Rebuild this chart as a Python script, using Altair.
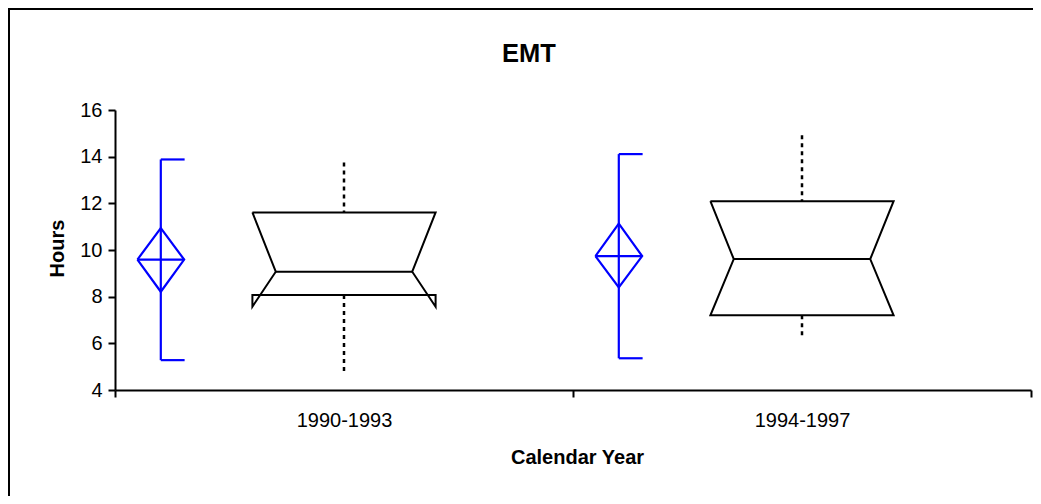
import altair as alt
import pandas as pd

# ---- data ----
chart_title = "EMT"
categories = ["1990-1993", "1994-1997"]

# blue: mean with confidence diamond and min/max range bars
mean_vals = [9.59, 9.74]
mean_ci_low = [8.21, 8.40]
mean_ci_high = [10.94, 11.13]
range_low = [5.28, 5.36]
range_high = [13.88, 14.11]

# black: notched box plot with dotted whiskers
box_min = [4.81, 6.35]
box_q1 = [8.07, 7.20]
box_median = [9.07, 9.61]
box_q3 = [11.61, 12.09]
box_max = [13.75, 14.92]
notch_low = [7.57, 7.20]
notch_high = [11.61, 12.09]

y_ticks = [4, 6, 8, 10, 12, 14, 16]

# ---- layout constants (in category-band units) ----
BOX_CENTER = 0.5
BLUE_CENTER = 0.1
BOX_HALF = 0.2
NOTCH = 0.051
DIAMOND = 0.051
CAP = 0.052

W, H = 916, 280
PAD = {"left": 107, "top": 102, "right": 2, "bottom": 106}
FONT = "Liberation Sans"
BLUE = "#0000FF"

box_path, box_rows, blue_path, blue_rows = [], [], [], []
for i, cat in enumerate(categories):
    c = i + BOX_CENTER
    L, R = c - BOX_HALF, c + BOX_HALF
    pts = [(L, box_q3[i]), (L, notch_high[i]), (L + NOTCH, box_median[i]),
           (L, notch_low[i]), (L, box_q1[i]), (R, box_q1[i]), (R, notch_low[i]),
           (R - NOTCH, box_median[i]), (R, notch_high[i]), (R, box_q3[i]),
           (L, box_q3[i])]
    for k, (px, py) in enumerate(pts):
        box_path.append({"cat": cat, "order": k, "x": px, "y": py})
    box_rows.append({"cat": cat, "c": c, "ml": L + NOTCH, "mr": R - NOTCH,
                     "min": box_min[i], "q1": box_q1[i], "med": box_median[i],
                     "q3": box_q3[i], "max": box_max[i]})

    b = i + BLUE_CENTER
    dpts = [(b - DIAMOND, mean_vals[i]), (b, mean_ci_high[i]),
            (b + DIAMOND, mean_vals[i]), (b, mean_ci_low[i]),
            (b - DIAMOND, mean_vals[i])]
    for k, (px, py) in enumerate(dpts):
        blue_path.append({"cat": cat, "order": k, "x": px, "y": py})
    blue_rows.append({"cat": cat, "b": b, "bl": b - DIAMOND, "br": b + DIAMOND,
                      "cap": b + CAP, "lo": range_low[i], "hi": range_high[i],
                      "mean": mean_vals[i]})

box_path = pd.DataFrame(box_path)
box_df = pd.DataFrame(box_rows)
blue_path = pd.DataFrame(blue_path)
blue_df = pd.DataFrame(blue_rows)

label_expr = ""
for i, cat in enumerate(categories):
    label_expr += f"datum.value == {i + BOX_CENTER} ? '{cat}' : "
label_expr += "''"

xscale = alt.Scale(domain=[0, len(categories)], nice=False, zero=False)
yscale = alt.Scale(domain=[y_ticks[0], y_ticks[-1]], nice=False, zero=False)

xaxis = alt.Axis(
    values=[v / 2 for v in range(2 * len(categories) + 1)],
    labelExpr=label_expr,
    tickOpacity={"condition": {"test": "datum.value % 1 != 0", "value": 0}, "value": 1},
    labelOverlap=False, labelFlush=False,
    grid=False, tickSize=7, tickWidth=2, tickColor="black",
    domainWidth=2, domainColor="black",
    labelFont=FONT, labelFontSize=20, labelColor="black", labelPadding=13,
    title="Calendar Year", titleFont=FONT, titleFontSize=20, titleFontWeight="bold",
    titleColor="black", titleX=462, titleY=73, titleAlign="center",
    titleBaseline="alphabetic",
)
yaxis = alt.Axis(
    values=y_ticks, grid=False, tickSize=7, tickWidth=2, tickColor="black",
    domainWidth=2, domainColor="black",
    labelFont=FONT, labelFontSize=20, labelColor="black", labelPadding=6,
    title="Hours", titleFont=FONT, titleFontSize=20, titleFontWeight="bold",
    titleColor="black", titleX=-52, titleY=138, titleAngle=-90,
    titleAlign="center", titleBaseline="alphabetic",
)


def X(f):
    return alt.X(f"{f}:Q", scale=xscale, axis=xaxis)


def Y(f):
    return alt.Y(f"{f}:Q", scale=yscale, axis=yaxis)


one = pd.DataFrame({"a": [0]})
border_left = alt.Chart(one).mark_rule(color="black", strokeWidth=2).encode(
    x=alt.value(-106), y=alt.value(-102), y2=alt.value(H + PAD["bottom"]))
border_top = alt.Chart(one).mark_rule(color="black", strokeWidth=2).encode(
    x=alt.value(-107), x2=alt.value(W + PAD["right"]), y=alt.value(-101))

title_mark = alt.Chart(pd.DataFrame({"t": [chart_title]})).mark_text(
    font=FONT, fontSize=25.5, fontWeight="bold", color="black",
    align="center", baseline="alphabetic"
).encode(text="t:N", x=alt.value(414), y=alt.value(-48))

box_outline = alt.Chart(box_path).mark_line(color="black", strokeWidth=2).encode(
    x=X("x"), y=Y("y"), detail="cat:N", order=alt.Order("order:Q"))
median_line = alt.Chart(box_df).mark_rule(color="black", strokeWidth=2).encode(
    x=X("ml"), x2="mr", y=Y("med"))
whisk_up = alt.Chart(box_df).mark_rule(color="black", strokeWidth=2.5, strokeDash=[4, 4]).encode(
    x=X("c"), y=Y("max"), y2="q3")
whisk_dn = alt.Chart(box_df).mark_rule(color="black", strokeWidth=2.5, strokeDash=[4, 4]).encode(
    x=X("c"), y=Y("q1"), y2="min")

range_bar = alt.Chart(blue_df).mark_rule(color=BLUE, strokeWidth=2.2).encode(
    x=X("b"), y=Y("lo"), y2="hi")
cap_hi = alt.Chart(blue_df).mark_rule(color=BLUE, strokeWidth=2.2).encode(
    x=X("b"), x2="cap", y=Y("hi"))
cap_lo = alt.Chart(blue_df).mark_rule(color=BLUE, strokeWidth=2.2).encode(
    x=X("b"), x2="cap", y=Y("lo"))
diamond = alt.Chart(blue_path).mark_line(color=BLUE, strokeWidth=2.2).encode(
    x=X("x"), y=Y("y"), detail="cat:N", order=alt.Order("order:Q"))
mean_line = alt.Chart(blue_df).mark_rule(color=BLUE, strokeWidth=2.2).encode(
    x=X("bl"), x2="br", y=Y("mean"))

chart = alt.layer(
    border_left, border_top, title_mark, box_outline, median_line, whisk_up, whisk_dn,
    range_bar, cap_hi, cap_lo, diamond, mean_line,
).properties(
    width=W, height=H,
    autosize="none",
    padding=PAD,
    background="white",
).configure_view(stroke=None)

chart.save("out.html", embed_options={"renderer": "svg", "actions": False})
